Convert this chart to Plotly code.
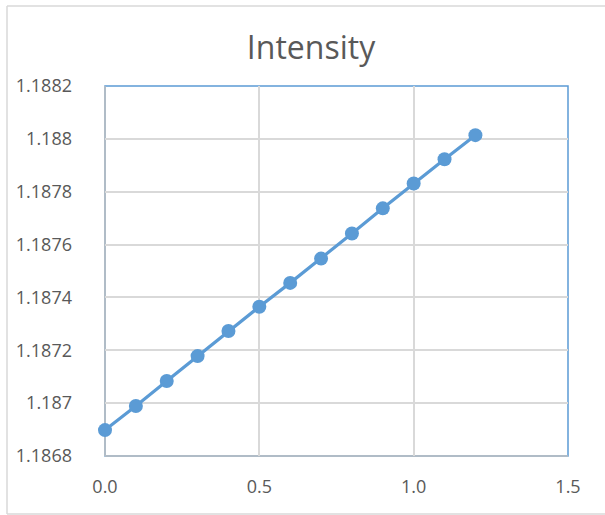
import plotly.graph_objects as go

x_vals = [0.0, 0.1, 0.2, 0.3, 0.4, 0.5, 0.6, 0.7, 0.8, 0.9, 1.0, 1.1, 1.2]
intensity = [1.186898, 1.186989, 1.187084, 1.187178, 1.187273, 1.187365, 1.187455,
             1.187547, 1.187642, 1.187737, 1.187831, 1.187923, 1.188014]
y_tickvals = [1.1868, 1.1870, 1.1872, 1.1874, 1.1876, 1.1878, 1.1880, 1.1882]
y_ticktext = ["1.1868", "1.187", "1.1872", "1.1874", "1.1876", "1.1878", "1.188", "1.1882"]
x_tickvals = [0.0, 0.5, 1.0, 1.5]

W, H = 605, 515
L, R, T, B = 105, 37, 86, 59
pw, ph = W - L - R, H - T - B

def px_to_paper(px, py):
    return (px - L) / pw, (H - B - py) / ph

fig = go.Figure()
fig.add_trace(go.Scatter(
    x=x_vals, y=intensity, mode="lines+markers",
    line=dict(color="#5B9BD5", width=3.2),
    marker=dict(color="#5B9BD5", size=14),
    showlegend=False, cliponaxis=False,
))

FAM = "Open Sans, Segoe UI, sans-serif"
font = dict(family=FAM, size=18, color="#595959")

fig.update_layout(
    width=W, height=H,
    margin=dict(l=L, r=R, t=T, b=B),
    paper_bgcolor="white", plot_bgcolor="white",
    font=font,
    title=dict(text="Intensity", x=311 / W, xanchor="center", xref="container",
               y=1 - 48 / H, yanchor="middle", yref="container",
               font=dict(family=FAM, size=32, color="#595959")),
    xaxis=dict(range=[0, 1.5], tickvals=x_tickvals, tickformat=".1f",
               showgrid=True, gridcolor="#D9D9D9", gridwidth=1.5,
               zeroline=False, showline=False, ticks="",
               ticklabelstandoff=18, tickfont=font),
    yaxis=dict(range=[1.1868, 1.1882], tickvals=y_tickvals, ticktext=y_ticktext,
               showgrid=True, gridcolor="#D9D9D9", gridwidth=1.5,
               zeroline=False, showline=False, ticks="",
               ticklabelstandoff=32, tickfont=font),
)

x0, y0 = px_to_paper(7, 514)
x1, y1 = px_to_paper(W, 6)
frame = dict(color="#D9D9D9", width=1.5)
shapes = [
    dict(type="line", xref="paper", yref="paper", x0=x0, y0=y1, x1=x1, y1=y1, line=frame, layer="below"),
    dict(type="line", xref="paper", yref="paper", x0=x0, y0=y0, x1=x1, y1=y0, line=frame, layer="below"),
    dict(type="line", xref="paper", yref="paper", x0=x0, y0=y0, x1=x0, y1=y1, line=frame, layer="below"),
    dict(type="rect", xref="paper", yref="paper", x0=0, y0=0, x1=1, y1=1,
         line=dict(color="#5B9BD5", width=1.5), layer="below"),
    dict(type="line", xref="paper", yref="paper", x0=0, y0=0, x1=1, y1=0,
         line=dict(color="#BFBFBF", width=1.5), layer="below"),
    dict(type="line", xref="paper", yref="paper", x0=0, y0=0, x1=0, y1=1,
         line=dict(color="#BFBFBF", width=1.5), layer="below"),
]
fig.update_layout(shapes=shapes)

fig.write_html(
    "out.html", config={"displayModeBar": False},
    post_script=("document.body.style.margin='0';"
                 "document.body.style.overflow='hidden';"
                 "document.documentElement.style.overflow='hidden';"),
)
